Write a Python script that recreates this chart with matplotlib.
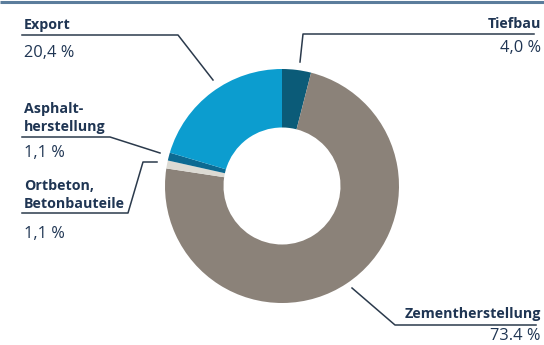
import matplotlib
matplotlib.use("Agg")
import matplotlib.pyplot as plt

# Anteile, im Uhrzeigersinn ab 12 Uhr
segmente = ["Tiefbau", "Zementherstellung", "Ortbeton, Betonbauteile", "Asphaltherstellung", "Export"]
anteile = [4.0, 73.4, 1.1, 1.1, 20.4]
farben = ["#0b5b78", "#8b8279", "#dcdad3", "#0d6a92", "#0c9dcf"]

W, H = 544, 345
TEXT = "#1f3553"
LINIE = "#2b3a4c"

plt.rcParams["font.family"] = ["Open Sans", "DejaVu Sans"]

fig = plt.figure(figsize=(W / 100, H / 100), dpi=100)
ax = fig.add_axes([0, 0, 1, 1])


def py(y):
    # Pixelzeile von oben -> Datenkoordinate
    return H - y


cx, cy, r = 282, 186, 117
ax.pie(anteile, colors=farben, startangle=90, counterclock=False,
       center=(cx, py(cy)), radius=r, frame=True,
       wedgeprops=dict(width=r * 0.5, linewidth=0))
ax.set_xlim(0, W)
ax.set_ylim(0, H)
ax.set_aspect("equal")
ax.axis("off")

# Linie am oberen Rand
ax.plot([0, W], [py(1.5), py(1.5)], color="#5b7d9c", lw=2.2, solid_capstyle="butt")


def leader(pts):
    xs = [p[0] for p in pts]
    ys = [py(p[1]) for p in pts]
    ax.plot(xs, ys, color=LINIE, lw=1.1)


def name(x, y, s, ha="left"):
    ax.text(x, py(y), s, color=TEXT, fontsize=10.3, ha=ha, va="baseline",
            fontweight="bold")


def wert(x, y, s, ha="left"):
    ax.text(x, py(y), s, color=TEXT, fontsize=11.8, ha=ha, va="baseline",
            fontweight="medium")


# Export
leader([(22, 35), (178, 35), (213, 80)])
name(24, 28.5, "Export")
wert(24, 57, "20,4 %")

# Asphaltherstellung
leader([(22, 137), (110, 137), (160, 153)])
name(24, 112.5, "Asphalt-")
name(24, 131, "herstellung")
wert(24, 157, "1,1 %")

# Ortbeton, Betonbauteile
leader([(157, 162), (143, 162), (128, 213), (22, 213)])
name(24, 190, "Ortbeton,")
name(24, 208, "Betonbauteile")
wert(24, 238, "1,1 %")

# Tiefbau
leader([(300, 62), (303, 34), (534, 34)])
name(541, 28, "Tiefbau", ha="right")
wert(541, 52, "4,0 %", ha="right")

# Zementherstellung
leader([(352, 288), (395, 325), (536, 325)])
name(541, 318, "Zementherstellung", ha="right")
wert(541, 340, "73.4 %", ha="right")

fig.savefig("out.png", dpi=100, facecolor="white")
